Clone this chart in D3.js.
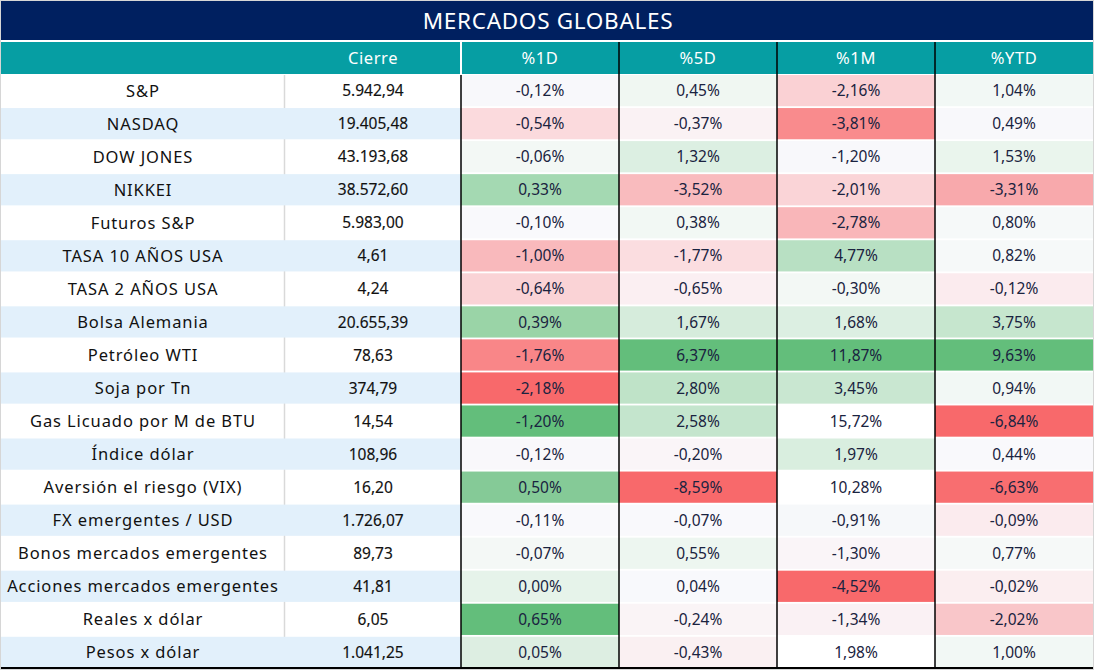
<!DOCTYPE html>
<html><head><meta charset="utf-8">
<script src="https://cdn.jsdelivr.net/npm/d3@7"></script>
<style>
html,body{margin:0;padding:0;background:#fff;}
svg{display:block;}
</style></head>
<body>
<svg id="chart" width="1094" height="670"></svg>
<script>
const title = "MERCADOS GLOBALES";
const headers = ["", "Cierre", "%1D", "%5D", "%1M", "%YTD"];
const pctColumns = ["%1D", "%5D", "%1M", "%YTD"];
const names = ["S&P","NASDAQ","DOW JONES","NIKKEI","Futuros S&P","TASA 10 AÑOS USA","TASA 2 AÑOS USA","Bolsa Alemania","Petróleo WTI","Soja por Tn","Gas Licuado por M de BTU","Índice dólar","Aversión el riesgo (VIX)","FX emergentes / USD","Bonos mercados emergentes","Acciones mercados emergentes","Reales x dólar","Pesos x dólar"];
const cierre = ["5.942,94","19.405,48","43.193,68","38.572,60","5.983,00","4,61","4,24","20.655,39","78,63","374,79","14,54","108,96","16,20","1.726,07","89,73","41,81","6,05","1.041,25"];
const pct1D = ["-0,12%","-0,54%","-0,06%","0,33%","-0,10%","-1,00%","-0,64%","0,39%","-1,76%","-2,18%","-1,20%","-0,12%","0,50%","-0,11%","-0,07%","0,00%","0,65%","0,05%"];
const pct5D = ["0,45%","-0,37%","1,32%","-3,52%","0,38%","-1,77%","-0,65%","1,67%","6,37%","2,80%","2,58%","-0,20%","-8,59%","-0,07%","0,55%","0,04%","-0,24%","-0,43%"];
const pct1M = ["-2,16%","-3,81%","-1,20%","-2,01%","-2,78%","4,77%","-0,30%","1,68%","11,87%","3,45%","15,72%","1,97%","10,28%","-0,91%","-1,30%","-4,52%","-1,34%","1,98%"];
const pctYTD = ["1,04%","0,49%","1,53%","-3,31%","0,80%","0,82%","-0,12%","3,75%","9,63%","0,94%","-6,84%","0,44%","-6,63%","-0,09%","0,77%","-0,02%","-2,02%","1,00%"];
// conditional-format fills as shown in the source (per column)
const fill1D = ["#F8F8FB","#FBDADD","#F3F8F5","#A4D9B2","#F9F9FC","#F9B9BC","#FAD3D6","#9AD4A7","#F98688","#F8696B","#63BE7B","#F9F8FB","#85CA97","#F9F9FC","#F4F8F6","#E6F3EA","#63BE7B","#DDEEE2"];
const fill5D = ["#F0F7F2","#FAF2F4","#DCEFE2","#F9BBBE","#F2F8F4","#FBDDE0","#FBEFF2","#D6ECDC","#63BE7B","#BFE3C8","#C4E5CD","#FAF5F8","#F8696B","#F9F9FC","#EDF6F0","#F8F9FC","#FAF4F6","#FAF0F2"];
const fill1M = ["#FAD1D4","#F98B8D","#F8F8FB","#FAD4D7","#F9B6B9","#B8E0C3","#F3F8F5","#DCEFE2","#63BE7B","#C9E7D1","#FFFFFF","#D9EEDF","#FFFFFF","#F6F8FA","#FAF5F8","#F8696B","#FAF1F4","#FFFFFF"];
const fillYTD = ["#F2F8F5","#F8F8FB","#EAF5ED","#F8A9AC","#F6F9F9","#F6F9F9","#FBEBEE","#C6E6CE","#63BE7B","#F2F8F5","#F8696B","#F9F9FC","#F86E70","#FBEBEE","#F6F9F8","#FBEEF0","#F9C6C9","#F2F8F5"];

const pctValues = [pct1D, pct5D, pct1M, pctYTD];
const pctFills = [fill1D, fill5D, fill1M, fillYTD];

const W = 1094, H = 670;
const svg = d3.select("#chart");
const NAVY = "#002060", TEAL = "#069EA3", BLUE = "#E2F0FB";
const nameFont = "'Noto Sans', sans-serif";

const xLeft = 0, xCierre = 285, xPct0 = 461, xRight = 1093;
const xPct = d3.scaleBand().domain(pctColumns).range([xPct0, xRight]).padding(0);
const y = d3.scaleBand().domain(d3.range(names.length)).range([75, 668]).paddingInner(0.055).paddingOuter(0);

// outer light border
svg.append("rect").attr("x",0.5).attr("y",0.5).attr("width",W-1).attr("height",H-1).attr("fill","#fff").attr("stroke","#D6D6D6");

// title
svg.append("rect").attr("x",1).attr("y",1).attr("width",xRight-1).attr("height",39).attr("fill",NAVY);
svg.append("text").attr("x",548).attr("y",21).attr("dy","0.36em").attr("text-anchor","middle")
  .attr("fill","#fff").attr("font-family",nameFont).attr("font-size",22.5).attr("letter-spacing",0.7).text(title);

// header
svg.append("rect").attr("x",1).attr("y",42).attr("width",xRight-1).attr("height",32).attr("fill",TEAL);
const headerX = [143, (xCierre+xPct0)/2].concat(pctColumns.map(c => xPct(c)+xPct.bandwidth()/2));
svg.selectAll("text.hdr").data(headers).join("text").attr("class","hdr")
  .attr("x",(d,i)=>headerX[i]).attr("y",58).attr("dy","0.36em").attr("text-anchor","middle")
  .attr("fill","#fff").attr("font-family",nameFont).attr("font-size",16.5).attr("letter-spacing",0.6).text(d=>d);

// name/cierre grey divider (visible on white rows)
svg.append("line").attr("x1",xCierre-0.5).attr("x2",xCierre-0.5).attr("y1",75).attr("y2",668).attr("stroke","#D9D9D9").attr("stroke-width",1.5);

const rows = svg.selectAll("g.row").data(names).join("g").attr("class","row");
rows.append("rect").attr("x",1).attr("y",(d,i)=>y(i)).attr("width",xPct0-1).attr("height",y.bandwidth())
  .attr("fill",(d,i)=> i%2===1 ? BLUE : "none");
rows.append("text").attr("x",143).attr("y",(d,i)=>y(i)+y.bandwidth()/2).attr("dy","0.36em").attr("text-anchor","middle")
  .attr("fill","#111").attr("font-family",nameFont).attr("font-size",16.5).attr("letter-spacing",0.9).text(d=>d);
rows.append("text").attr("x",(xCierre+xPct0)/2).attr("y",(d,i)=>y(i)+y.bandwidth()/2).attr("dy","0.36em").attr("text-anchor","middle")
  .attr("fill","#111").attr("stroke","#111").attr("stroke-width",0.15).attr("font-family",nameFont).attr("font-size",15.5).text((d,i)=>cierre[i]);

// percentage cells
pctColumns.forEach((col, ci) => {
  const g = svg.append("g");
  g.selectAll("rect").data(pctValues[ci]).join("rect")
    .attr("x", xPct(col)).attr("y",(d,i)=>y(i)).attr("width",xPct.bandwidth()).attr("height",y.bandwidth())
    .attr("fill",(d,i)=>pctFills[ci][i]);
  g.selectAll("text").data(pctValues[ci]).join("text")
    .attr("x", xPct(col)+xPct.bandwidth()/2).attr("y",(d,i)=>y(i)+y.bandwidth()/2).attr("dy","0.36em")
    .attr("text-anchor","middle").attr("fill","#1A2340").attr("font-family",nameFont).attr("font-size",15.5).text(d=>d);
});

// vertical separators
svg.append("line").attr("x1",xPct0).attr("x2",xPct0).attr("y1",42).attr("y2",74).attr("stroke","#fff").attr("stroke-width",2);
svg.append("line").attr("x1",xPct0).attr("x2",xPct0).attr("y1",75).attr("y2",668).attr("stroke","#000").attr("stroke-width",1.5);
pctColumns.slice(1).forEach(c => {
  svg.append("line").attr("x1",xPct(c)).attr("x2",xPct(c)).attr("y1",42).attr("y2",668).attr("stroke","#000").attr("stroke-width",1.5);
});
// bottom border
svg.append("line").attr("x1",1).attr("x2",xRight).attr("y1",668).attr("y2",668).attr("stroke","#000").attr("stroke-width",2);
</script>
</body></html>
